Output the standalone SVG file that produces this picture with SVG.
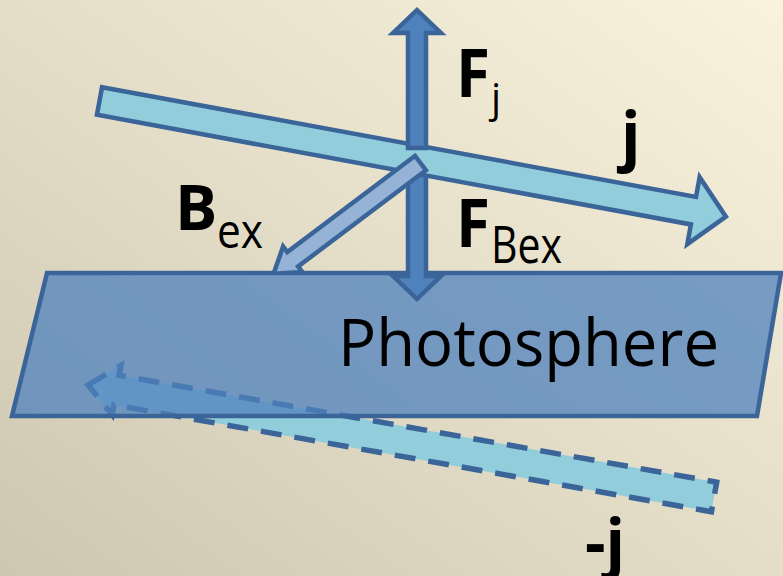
<svg xmlns="http://www.w3.org/2000/svg" width="783" height="576" viewBox="0 0 783 576">
<defs>
<linearGradient id="bg" x1="0" y1="1" x2="1" y2="0">
<stop offset="0" stop-color="#cdc6b1"/>
<stop offset="0.5" stop-color="#e4dec9"/>
<stop offset="1" stop-color="#f9f3dd"/>
</linearGradient>
<clipPath id="abovePhoto"><rect x="0" y="0" width="783" height="273"/></clipPath>
</defs>
<style>
.edge{stroke:#3b6499;stroke-width:4.5;stroke-linejoin:miter}
.force{fill:#4f81bd}
.cur{fill:#92cddc}
.bfield{fill:#95b3d7}
.dash{stroke-width:5.5;stroke-dasharray:21 13}
.lbl{font-family:"Open Sans","Liberation Sans",sans-serif;fill:#000}
.b{font-weight:bold}
</style>
<rect width="783" height="576" fill="url(#bg)"/>
<g id="connectors">
<g id="minus-j-arrow">
<polygon class="cur edge dash" transform="translate(88,385) rotate(10.14)" points="0,0 29,-25 29,-15 636,-15 636,15 29,15 29,25"/>
</g>
</g>
<g id="photosphere">
<polygon class="edge" fill="#4f81bd" fill-opacity="0.75" points="47,273 781,273 757,416 12,416"/>
<text class="lbl" x="338" y="366" font-size="66" textLength="381" lengthAdjust="spacingAndGlyphs">Photosphere</text>
</g>
<g id="connectors2">
<g id="F-Bex-arrow">
<polygon class="force edge" points="408,165 426,165 426,276 441,276 417,299 393,276 408,276"/>
</g>
<g id="j-arrow">
<polygon class="cur edge" transform="translate(99.5,101) rotate(10.46)" points="0,-14 604,-14 604,-34 637,0 604,34 604,14 0,14"/>
</g>
<g id="F-j-arrow">
<polygon class="force edge" points="417,10 441,33 426,33 426,148 408,148 408,33 393,33"/>
</g>
<g id="Bex-arrow" clip-path="url(#abovePhoto)">
<polygon class="bfield edge" transform="translate(420.5,163) rotate(143)" points="0,-9 160,-9 160,-16 184,0 160,16 160,9 0,9"/>
</g>
</g>
<g id="labels">
<g id="label-Fj">
<text class="lbl b" x="456" y="97" font-size="66" textLength="34" lengthAdjust="spacingAndGlyphs">F</text>
<text class="lbl" x="491" y="112" font-size="40">j</text>
</g>
<g id="label-j">
<text class="lbl b" x="621" y="158" font-size="64">j</text>
</g>
<g id="label-Bex">
<text class="lbl b" x="175" y="230" font-size="63">B</text>
<text class="lbl" x="217" y="248" font-size="48" textLength="46" lengthAdjust="spacingAndGlyphs">ex</text>
</g>
<g id="label-FBex">
<text class="lbl b" x="456" y="247" font-size="66" textLength="34" lengthAdjust="spacingAndGlyphs">F</text>
<text class="lbl" x="491" y="263" font-size="52" textLength="71" lengthAdjust="spacingAndGlyphs">Bex</text>
</g>
<g id="label-minus-j">
<text class="lbl b" x="585" y="565" font-size="64">-j</text>
</g>
</g>
</svg>
